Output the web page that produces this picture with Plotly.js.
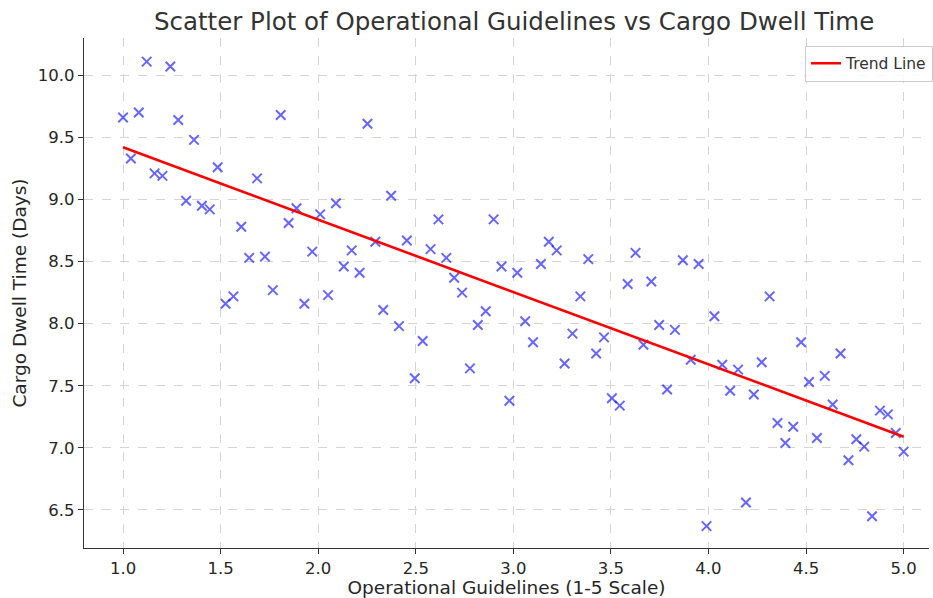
<!DOCTYPE html>
<html><head><meta charset="utf-8">
<script src="https://cdn.plot.ly/plotly-3.0.1.min.js"></script>
<style>html,body{margin:0;padding:0;background:#fff}#chart{width:933px;height:598px}</style>
</head><body><div id="chart"></div>
<script>
const guidelines = Array.from({length:100},(_,i)=>1+i*4/99);
const dwellTime = [
9.66,9.33,9.70,10.11,9.21,9.19,10.07,9.64,8.99,9.48,
8.95,8.92,9.26,8.16,8.22,8.78,8.53,9.17,8.54,8.27,
9.68,8.81,8.93,8.16,8.58,8.88,8.23,8.97,8.46,8.59,
8.41,9.61,8.66,8.11,9.03,7.98,8.67,7.56,7.86,8.60,
8.84,8.53,8.37,8.25,7.64,7.99,8.10,8.84,8.46,7.38,
8.41,8.02,7.85,8.48,8.66,8.59,7.68,7.92,8.22,8.52,
7.76,7.89,7.40,7.34,8.32,8.57,7.83,8.34,7.99,7.47,
7.95,8.51,7.71,8.48,6.37,8.06,7.67,7.46,7.63,6.56,
7.43,7.69,8.22,7.20,7.04,7.17,7.85,7.53,7.08,7.58,
7.35,7.76,6.90,7.07,7.01,6.45,7.30,7.27,7.12,6.97];
const trendX = [1.0, 5.0];
const trendY = [9.42, 7.09];
const xTicks = [1.0,1.5,2.0,2.5,3.0,3.5,4.0,4.5,5.0];
const yTicks = [6.5,7.0,7.5,8.0,8.5,9.0,9.5,10.0];

const font = "DejaVu Sans, sans-serif";
const data = [
 {x:guidelines,y:dwellTime,mode:'markers',type:'scatter',showlegend:false,
  marker:{symbol:'x-thin',size:9.5,color:'rgba(0,0,255,0.6)',line:{width:2,color:'rgba(0,0,255,0.6)'}}},
 {x:trendX,y:trendY,mode:'lines',type:'scatter',name:'Trend Line',line:{color:'#ff0000',width:2.6}}
];
const layout = {
 width:933,height:598,
 margin:{l:84,r:0,t:38,b:50},
 paper_bgcolor:'#fff',plot_bgcolor:'#fff',
 font:{family:font,size:16.5,color:'#262626'},
 title:{text:'Scatter Plot of Operational Guidelines vs Cargo Dwell Time',font:{family:font,size:24.5,color:'#333'},x:0.551,xanchor:'center',y:0.965,yanchor:'middle'},
 xaxis:{range:[0.80,5.13],tickvals:xTicks,ticktext:xTicks.map(v=>v.toFixed(1)),
  title:{text:'Operational Guidelines (1-5 Scale)',font:{size:18.5},standoff:3},
  showgrid:true,gridcolor:'#d4d4d4',griddash:'dash',gridwidth:1,zeroline:false,
  showline:true,linecolor:'#333',linewidth:1.3,ticks:'outside',ticklen:5,tickcolor:'#333',mirror:false},
 yaxis:{range:[6.194,10.30],tickvals:yTicks,ticktext:yTicks.map(v=>v.toFixed(1)),
  title:{text:'Cargo Dwell Time (Days)',font:{size:18.5},standoff:6},
  showgrid:true,gridcolor:'#d4d4d4',griddash:'dash',gridwidth:1,zeroline:false,
  showline:true,linecolor:'#333',linewidth:1.3,ticks:'outside',ticklen:5,tickcolor:'#333',mirror:false},
 legend:{x:1.005,xanchor:'right',y:0.985,yanchor:'top',bgcolor:'rgba(255,255,255,0.85)',bordercolor:'#ccc',borderwidth:1,font:{size:15.5,color:'#333'}}
};
Plotly.newPlot('chart',data,layout,{displayModeBar:false,staticPlot:true});
</script></body></html>
